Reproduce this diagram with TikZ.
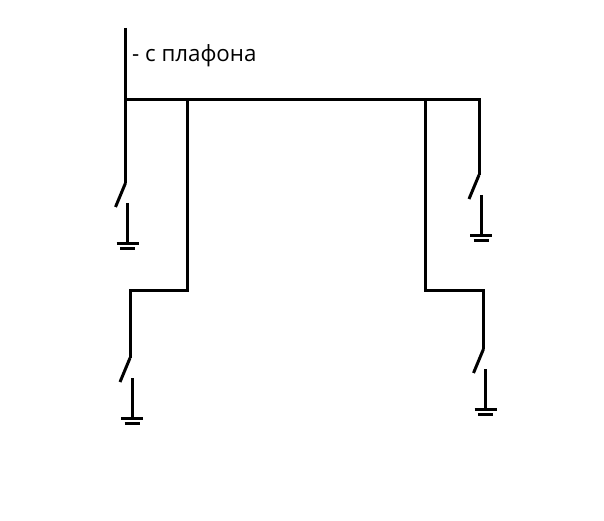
\documentclass[tikz,border=0pt]{standalone}
\usepackage{fontspec}
\setmainfont{Open Sans}

\tikzset{
    wire/.style={line width=3pt},
    lamp label/.style={font=\fontsize{22.3}{26}\selectfont, anchor=west, inner sep=0pt}
}

\begin{document}
\begin{tikzpicture}[x=1pt,y=-1pt]
    \useasboundingbox (0,0) rectangle (604,521);
    \fill[white] (0,0) rectangle (604,521);

    \coordinate (top) at (125.5,28);
    \coordinate (busL) at (125.5,99.5);
    \coordinate (tapL) at (187.5,99.5);
    \coordinate (tapR) at (425,99.5);
    \coordinate (busR) at (479,99.5);
    \coordinate (kneeLa) at (187.5,290);
    \coordinate (kneeLb) at (130,290);
    \coordinate (kneeRa) at (425,290);
    \coordinate (kneeRb) at (483.5,290);

    % switch with ground: name/x/y of the blade pivot
    \foreach \name/\x/\y in {a/125.5/183, b/130/358, c/479/175, d/483.5/349}{
        \coordinate (\name) at (\x,\y);
        \coordinate (\name tip) at (\x-10,\y+24);
        \coordinate (\name stem) at (\x+2,\y+20);
        \coordinate (\name gnd) at (\x+2,\y+60.5);
        \draw[wire] (\name) -- (\name tip);
        \draw[wire] (\name stem) -- (\name gnd);
        \draw[wire] ([xshift=-11pt]\name gnd) -- ([xshift=11pt]\name gnd);
        \draw[wire] ([shift={(-7.5pt,-5pt)}]\name gnd) -- ([shift={(7.5pt,-5pt)}]\name gnd);
    }

    \draw[wire] (top) -- (busL) -- (a);
    \draw[wire] (busL) -- (tapL) -- (tapR) -- (busR) -- (c);
    \draw[wire] (tapL) -- (kneeLa) -- (kneeLb) -- (b);
    \draw[wire] (tapR) -- (kneeRa) -- (kneeRb) -- (d);

    \node[lamp label] (lamp) at (132,55.5) {- с плафона};
\end{tikzpicture}
\end{document}
